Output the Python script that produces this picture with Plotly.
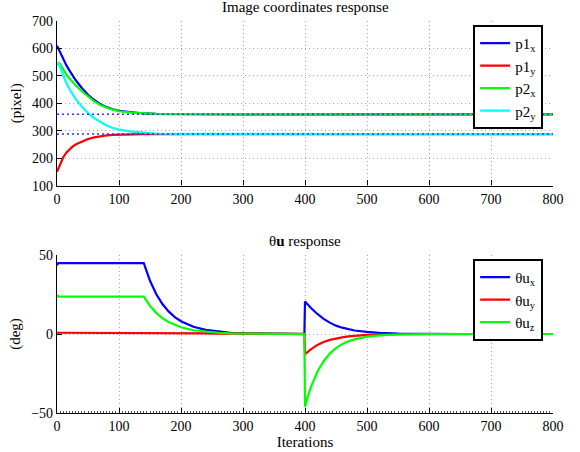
import plotly.graph_objects as go

# ---------------- data ----------------
it_top = [0, 3, 5, 10, 15, 20, 25, 30, 40, 50, 60, 70, 80, 90, 100, 120, 140, 160, 200, 250, 300, 400, 500, 600, 700, 800]
p1x = [610, 595, 584, 560, 539, 520, 503, 485, 456, 431, 412, 397, 386, 378, 373, 367, 363, 361.5, 360.5, 360, 360, 360, 360, 360, 360, 360]
p1y = [150, 165, 178, 203, 220, 232, 242, 250, 261, 270, 276, 280, 283, 285, 286, 287, 287.5, 288, 288, 288, 288, 288, 288, 288, 288, 288]
p2x = [540, 547, 543, 522, 505, 490, 477, 466, 444, 424, 407, 394, 384, 377, 371, 366, 363, 361.5, 360.5, 360, 360, 360, 360, 360, 360, 360]
p2y = [540, 545, 532, 500, 474, 452, 433, 416, 388, 364, 346, 331, 319, 310, 304, 297, 293, 290, 288.5, 288, 288, 288, 288, 288, 288, 288]
desired_iters = [0, 800]
desired_x = [360, 360]
desired_y = [288, 288]

it_bot = [0, 2, 140, 150, 160, 170, 180, 190, 200, 220, 240, 260, 280, 300, 350, 399,
          400, 405, 410, 420, 430, 440, 450, 460, 470, 480, 500, 520, 550, 600, 650, 800]
thux = [43.5, 44.9, 44.9, 33.7, 25.3, 19.0, 14.3, 10.7, 8.1, 4.6, 2.6, 1.5, 0.8, 0.5, 0.1, 0,
        20.5, 18.3, 16.3, 12.7, 9.6, 7.2, 5.3, 4.0, 2.9, 2.2, 1.3, 0.7, 0.3, 0.05, 0, 0]
thuy = [0.8, 0.8, 0.8, 0.8, 0.75, 0.7, 0.7, 0.65, 0.6, 0.5, 0.4, 0.3, 0.25, 0.2, 0.1, 0.05,
        -12.7, -11, -9.5, -6.9, -5.0, -3.7, -2.8, -2.1, -1.5, -1.1, -0.6, -0.3, -0.1, 0, 0, 0]
thuz = [24.8, 23.7, 23.7, 17.8, 13.4, 10.0, 7.6, 5.7, 4.3, 2.4, 1.4, 0.8, 0.4, 0.2, 0.05, 0,
        -46, -39, -33.1, -23.9, -17.2, -12.4, -8.9, -6.4, -4.6, -3.4, -1.7, -0.9, -0.3, -0.05, 0, 0]

top_names = ["p1<sub>x</sub>", "p1<sub>y</sub>", "p2<sub>x</sub>", "p2<sub>y</sub>"]
bot_names = ["θu<sub>x</sub>", "θu<sub>y</sub>", "θu<sub>z</sub>"]
x_ticks = [0, 100, 200, 300, 400, 500, 600, 700, 800]
top_yticks = [100, 200, 300, 400, 500, 600, 700]
bot_yticks = [-50, 0, 50]

# ---------------- figure ----------------
FONT = "Liberation Serif"
BLUE, RED, GREEN, CYAN = "#0000FF", "#FF0000", "#00FF00", "#00FFFF"

fig = go.Figure()
for ys, nm, col in zip([p1x, p1y, p2x, p2y], top_names, [BLUE, RED, GREEN, CYAN]):
    fig.add_trace(go.Scatter(x=it_top, y=ys, name=nm, mode="lines",
                             line=dict(color=col, width=2.2), xaxis="x", yaxis="y", legend="legend"))
for ys in [desired_x, desired_y]:
    fig.add_trace(go.Scatter(x=desired_iters, y=ys, mode="lines", showlegend=False,
                             line=dict(color="#3030ff", width=1.6, dash="2px,3px"), xaxis="x", yaxis="y"))
for ys, nm, col in zip([thux, thuy, thuz], bot_names, [BLUE, RED, GREEN]):
    fig.add_trace(go.Scatter(x=it_bot, y=ys, name=nm, mode="lines",
                             line=dict(color=col, width=2.2), xaxis="x2", yaxis="y2", legend="legend2"))

axis_common = dict(showgrid=True, gridcolor="#a8a8a8", griddash="1px,3px", gridwidth=1,
                   showline=True, linecolor="black", linewidth=1.3,
                   ticks="inside", ticklen=5, tickcolor="black", zeroline=False,
                   automargin=False,
                   tickfont=dict(family=FONT, size=14, color="black"))

fig.update_layout(
    width=580, height=452,
    margin=dict(l=57, r=27, t=21, b=39),
    paper_bgcolor="white", plot_bgcolor="white",
    font=dict(family=FONT, color="black"),
    xaxis=dict(domain=[0, 1], range=[0, 800], tickvals=x_ticks, anchor="y", **axis_common),
    yaxis=dict(domain=[0.58, 1], range=[100, 700], tickvals=top_yticks, anchor="x",
               title=dict(text="(pixel)", font=dict(family=FONT, size=15), standoff=6), **axis_common),
    xaxis2=dict(domain=[0, 1], range=[0, 800], tickvals=x_ticks, anchor="y2",
                minor=dict(dtick=5, ticks="inside", ticklen=2, tickcolor="#555555", tickwidth=0.6, showgrid=False),
                title=dict(text="Iterations", font=dict(family=FONT, size=15), standoff=2), **axis_common),
    yaxis2=dict(domain=[0, 0.403], range=[-50, 50], tickvals=bot_yticks, anchor="x2",
                title=dict(text="(deg)", font=dict(family=FONT, size=15), standoff=6), **axis_common),
    legend=dict(x=0.839, y=0.99, xanchor="left", yanchor="top", bgcolor="white",
                bordercolor="black", borderwidth=2, font=dict(family=FONT, size=15),
                tracegroupgap=0),
    legend2=dict(x=0.839, y=0.393, xanchor="left", yanchor="top", bgcolor="white",
                 bordercolor="black", borderwidth=2, font=dict(family=FONT, size=15),
                 tracegroupgap=0),
    annotations=[
        dict(text="Image coordinates response", x=0.5, y=1, xref="paper", yref="paper",
             xanchor="center", yanchor="bottom", yshift=4, showarrow=False,
             font=dict(family=FONT, size=15)),
        dict(text="θ<b>u</b> response", x=0.5, y=0.403, xref="paper", yref="paper",
             xanchor="center", yanchor="bottom", yshift=4, showarrow=False,
             font=dict(family=FONT, size=15)),
    ],
)

# remove the default 8px page margin so the figure fills the 580x452 window exactly
fig.write_html("out.html", config={"displayModeBar": False},
               post_script="document.body.style.margin='0';")
